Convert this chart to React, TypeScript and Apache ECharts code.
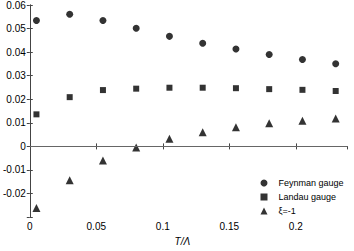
import React, { useEffect, useRef } from "react";
import * as echarts from "echarts";

const xValues = [0.005, 0.03, 0.055, 0.08, 0.105, 0.13, 0.155, 0.18, 0.205, 0.23];
const feynman = [0.0534, 0.0561, 0.0534, 0.0501, 0.0467, 0.0438, 0.0413, 0.039, 0.0369, 0.0351];
const landau = [0.0136, 0.0209, 0.0239, 0.0245, 0.0249, 0.0249, 0.0247, 0.0243, 0.024, 0.0235];
const xiMinus1 = [-0.0261, -0.0144, -0.006, -0.0005, 0.0032, 0.006, 0.0081, 0.0098, 0.0109, 0.0118];
const seriesNames = ["Feynman gauge", "Landau gauge", "ξ=-1"];
const xTickLabels = ["0", "0.05", "0.1", "0.15", "0.2"];
const yTickLabels = ["-0.02", "-0.01", "0", "0.01", "0.02", "0.03", "0.04", "0.05", "0.06"];

const FONT = "'Liberation Sans', Arial, sans-serif";
const AX = "#444";

function fmt(v: number) {
  return String(Math.round(v * 1000) / 1000);
}

export default function App() {
  const ref = useRef<HTMLDivElement>(null);
  useEffect(() => {
    if (!ref.current) return;
    const chart = echarts.init(ref.current, undefined, { renderer: "svg" });
    const mk = (ys: number[]) => xValues.map((x, i) => [x, ys[i]]);
    const axisCommon = {
      axisLine: { show: true, lineStyle: { color: AX, width: 1 } },
      axisTick: { show: true, inside: true, length: 3, lineStyle: { color: AX } },
      splitLine: { show: false },
    };
    chart.setOption({
      animation: false,
      grid: { left: 27, right: 7, top: 5, bottom: 31 },
      legend: {
        orient: "vertical",
        left: 260.5,
        top: 178.5,
        padding: 0,
        itemGap: 5,
        itemWidth: 7,
        itemHeight: 7,
        textStyle: { fontFamily: FONT, fontSize: 9, color: "#000", padding: [0, 0, 0, 6] },
        data: [
          { name: seriesNames[0], icon: "circle" },
          { name: seriesNames[1], icon: "rect" },
          { name: seriesNames[2], icon: "triangle" },
        ],
      },
      xAxis: [
        {
          type: "value",
          min: 0,
          max: 0.2385,
          interval: 0.05,
          position: "bottom",
          name: "T/Λ",
          nameLocation: "middle",
          nameGap: 17,
          nameTextStyle: { fontFamily: FONT, fontSize: 10, fontStyle: "italic", color: "#000", padding: [0, 12, 0, 0] },
          ...axisCommon,
          axisLabel: {
            fontFamily: FONT,
            fontSize: 10,
            color: "#000",
            margin: 4,
            showMaxLabel: false,
            formatter: (v: number) => {
              const s = fmt(v);
              return xTickLabels.includes(s) ? s : "";
            },
          },
        },
        {
          type: "value",
          min: 0,
          max: 0.2385,
          interval: 0.05,
          position: "top",
          ...axisCommon,
          axisLabel: { show: false },
        },
      ],
      yAxis: [
        {
          type: "value",
          min: -0.03,
          max: 0.06,
          interval: 0.01,
          position: "left",
          ...axisCommon,
          axisLabel: {
            fontFamily: FONT,
            fontSize: 10,
            color: "#000",
            margin: 4,
            formatter: (v: number) => {
              const s = fmt(v);
              return yTickLabels.includes(s) ? s : "";
            },
          },
        },
        {
          type: "value",
          min: -0.03,
          max: 0.06,
          interval: 0.01,
          position: "right",
          ...axisCommon,
          axisLabel: { show: false },
        },
      ],
      series: [
        {
          name: seriesNames[0],
          type: "scatter",
          symbol: "circle",
          symbolSize: 7,
          itemStyle: { color: "#000" },
          data: mk(feynman),
          markLine: {
            silent: true,
            symbol: "none",
            label: { show: false },
            lineStyle: { color: "#666", width: 1, type: "solid" },
            data: [{ yAxis: 0 }],
          },
        },
        {
          name: seriesNames[1],
          type: "scatter",
          symbol: "rect",
          symbolSize: 6,
          itemStyle: { color: "#000" },
          data: mk(landau),
        },
        {
          name: seriesNames[2],
          type: "scatter",
          symbol: "triangle",
          symbolSize: 8,
          itemStyle: { color: "#000" },
          data: mk(xiMinus1),
        },
      ],
    });
    return () => chart.dispose();
  }, []);
  return <div ref={ref} style={{ width: 354, height: 251, position: "absolute", left: 0, top: 0 }} />;
}
